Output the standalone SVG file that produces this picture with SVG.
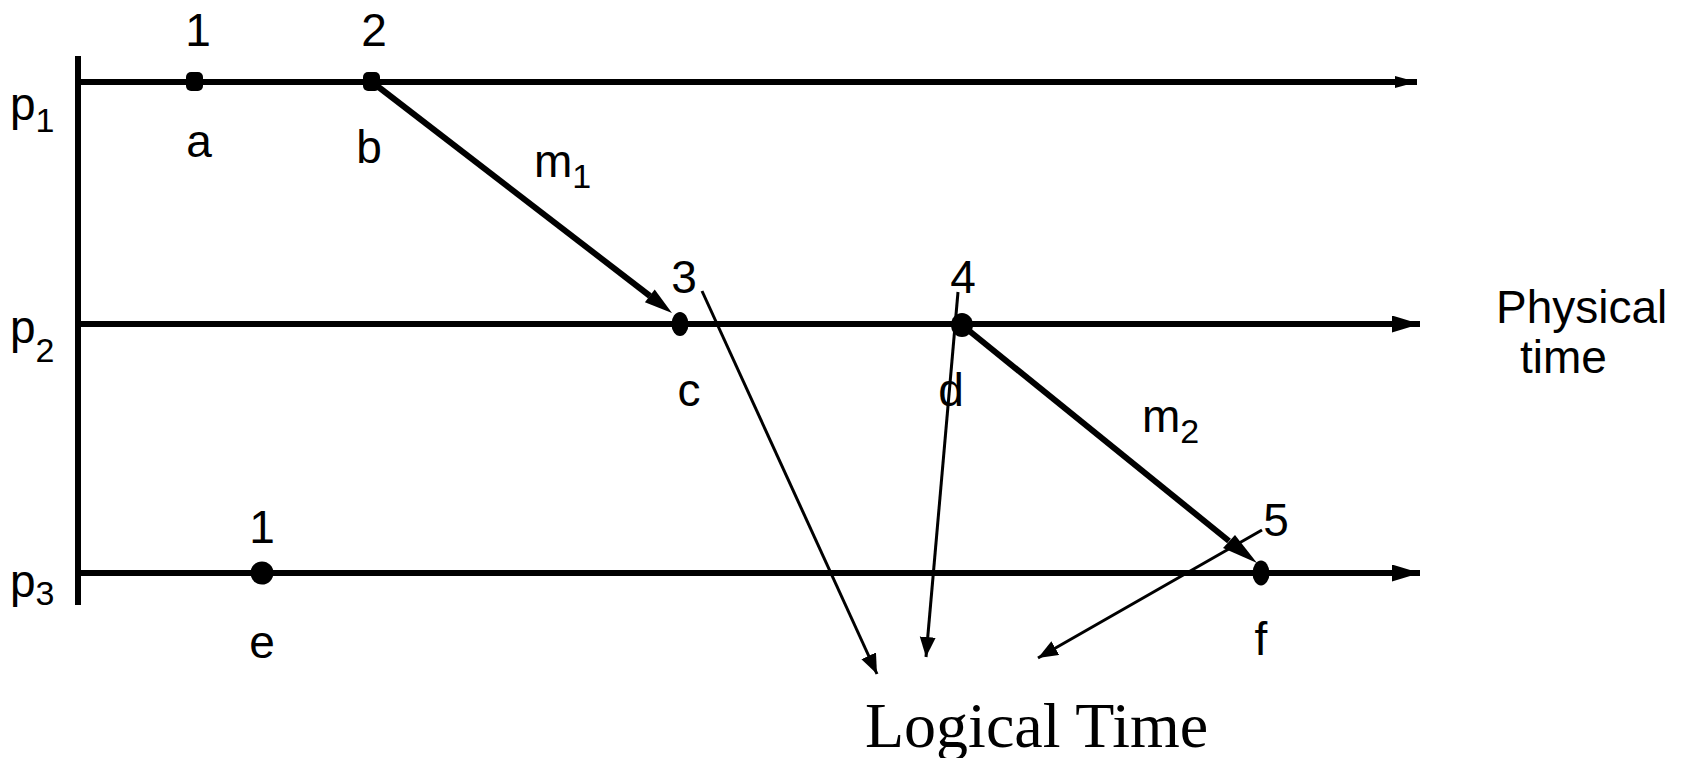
<svg xmlns="http://www.w3.org/2000/svg" width="1683" height="758" viewBox="0 0 1683 758">
<defs>
<style>
.t{font-family:"Liberation Sans",Arial,sans-serif;font-size:46px;fill:#000}
.tm{text-anchor:middle}
.s{font-size:34px}
.thick{stroke:#000;stroke-width:6;fill:none}
.thin{stroke:#000;stroke-width:3;fill:none}
.dot{fill:#000}
</style>
<marker id="ah1" markerUnits="userSpaceOnUse" markerWidth="24" markerHeight="14" refX="22" refY="6" orient="auto"><path d="M0,0 L22,6 L0,12 z" fill="#000"/></marker>
<marker id="ah2" markerUnits="userSpaceOnUse" markerWidth="30" markerHeight="18" refX="28" refY="8.5" orient="auto"><path d="M0,0 L28,8.5 L0,17 z" fill="#000"/></marker>
<marker id="ahT" markerUnits="userSpaceOnUse" markerWidth="22" markerHeight="18" refX="20" refY="8" orient="auto"><path d="M0,0 L20,8 L0,16 z" fill="#000"/></marker>
</defs>
<rect width="1683" height="758" fill="#fff"/>

<g id="axes">
<line class="thick" x1="78" y1="56" x2="78" y2="605"/>
<line class="thick" x1="78" y1="82" x2="1417" y2="82" marker-end="url(#ah1)"/>
<line class="thick" x1="78" y1="324" x2="1420" y2="324" marker-end="url(#ah2)"/>
<line class="thick" x1="78" y1="573" x2="1420" y2="573" marker-end="url(#ah2)"/>
</g>

<g id="connectors">
<line class="thick" x1="372" y1="82" x2="650" y2="296"/>
<polygon points="672,313 644.9,302.2 654.7,289.6" fill="#000"/>
<line class="thick" x1="962" y1="325" x2="1229" y2="541"/>
<polygon points="1257,563 1223,548 1235,535" fill="#000"/>
<line class="thin" x1="702" y1="291" x2="877" y2="674" marker-end="url(#ahT)"/>
<line class="thin" x1="958" y1="292" x2="926" y2="657" marker-end="url(#ahT)"/>
<line class="thin" x1="1262" y1="530" x2="1038" y2="658" marker-end="url(#ahT)"/>
</g>

<g id="event-a"><rect class="dot" x="186" y="72" width="17" height="19" rx="5"/><text class="t tm" x="198" y="46">1</text><text class="t tm" x="199" y="157">a</text></g>
<g id="event-b"><rect class="dot" x="363" y="72" width="17" height="19" rx="5"/><text class="t tm" x="374" y="46">2</text><text class="t tm" x="369" y="163">b</text></g>
<g id="event-c"><ellipse class="dot" cx="680" cy="324" rx="8.5" ry="12"/><text class="t tm" x="684" y="293">3</text><text class="t tm" x="689" y="406">c</text></g>
<g id="event-d"><ellipse class="dot" cx="962" cy="325" rx="11" ry="12"/><text class="t tm" x="963" y="293">4</text><text class="t tm" x="951" y="406">d</text></g>
<g id="event-e"><circle class="dot" cx="262" cy="573" r="11.5"/><text class="t tm" x="262" y="543">1</text><text class="t tm" x="262" y="658">e</text></g>
<g id="event-f"><ellipse class="dot" cx="1261" cy="573" rx="8.5" ry="12.5"/><text class="t tm" x="1276" y="536">5</text><text class="t tm" x="1261" y="655">f</text></g>

<g id="process-labels">
<text class="t" x="10" y="120">p<tspan class="s" dy="12">1</tspan></text>
<text class="t" x="10" y="343">p<tspan class="s" dy="19">2</tspan></text>
<text class="t" x="10" y="597">p<tspan class="s" dy="8">3</tspan></text>
</g>

<g id="message-labels">
<text class="t" x="534" y="177">m<tspan class="s" dy="11">1</tspan></text>
<text class="t" x="1142" y="432">m<tspan class="s" dy="11">2</tspan></text>
</g>

<g id="physical-time">
<text class="t" x="1496" y="323" font-size="47">Physical</text>
<text class="t" x="1520" y="373" font-size="47">time</text>
</g>

<g id="logical-time">
<text x="865" y="747" font-family="'Liberation Serif','Times New Roman',serif" font-size="64" fill="#000">Logical Time</text>
</g>
</svg>
